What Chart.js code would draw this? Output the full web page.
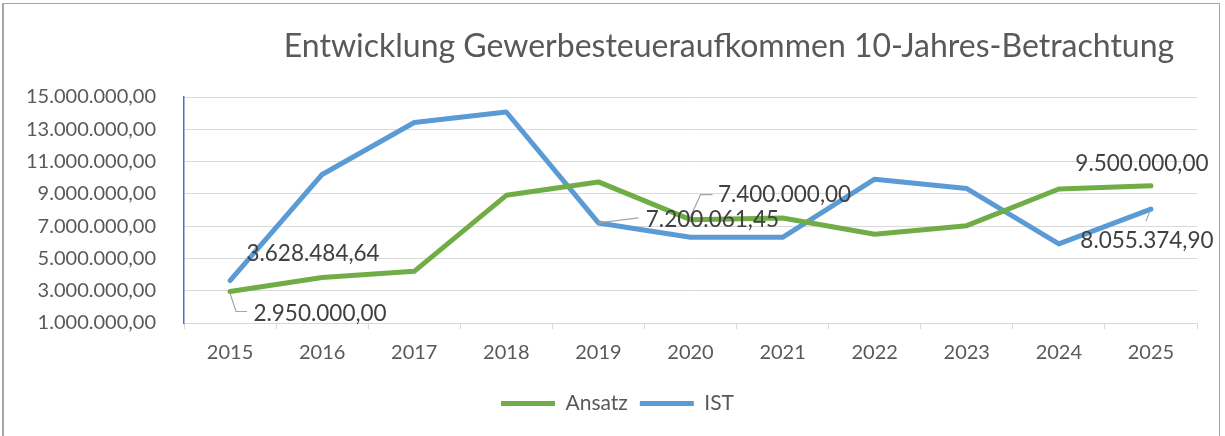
<!DOCTYPE html>
<html>
<head>
<meta charset="utf-8">
<script src="https://cdn.jsdelivr.net/npm/chart.js@4"></script>
<style>
  body { margin: 0; background: #fff; }
  #wrap { position: relative; width: 1225px; height: 436px; overflow: hidden; }
  #frame {
    position: absolute; left: 2px; top: 3px; width: 1218px; height: 460px;
    border: 1px solid #a6a6a6; border-left-width: 2px; box-sizing: border-box;
  }
  canvas { position: absolute; left: 0; top: 0; }
</style>
</head>
<body>
<div id="wrap">
  <div id="frame"></div>
  <canvas id="chartGewst" width="1225" height="436"></canvas>
</div>
<script>
/* Daten */
const jahre = ['2015', '2016', '2017', '2018', '2019', '2020', '2021', '2022', '2023', '2024', '2025'];

const ansatz = [2950000, 3820000, 4200000, 8910000, 9740000, 7400000, 7500000, 6500000, 7030000, 9300000, 9500000];

const ist = [3628484.64, 10200000, 13420000, 14070000, 7200061.45, 6310000, 6310000, 9910000, 9330000, 5900000, 8055374.90];

const yTicks = [1000000, 3000000, 5000000, 7000000, 9000000, 11000000, 13000000, 15000000];

const titel = 'Entwicklung Gewerbesteueraufkommen 10-Jahres-Betrachtung';

const FONT = 'Lato, "Open Sans", sans-serif';

function formatDe(v) {
  const parts = Number(v).toFixed(2).split('.');
  const ganz = parts[0].replace(/\B(?=(\d{3})+(?!\d))/g, '.');
  return ganz + ',' + parts[1];
}

/* Beschriftungen einzelner Punkte (Versatz + Fuehrungslinie) */
const labelsAnsatz = [
  { i: 0, dx: 90, dy: 22, line: [[0, 2], [6, 20], [17, 20]] },
  { i: 5, dx: 94, dy: -25, line: [[0, -3], [10, -25], [22, -25]] },
  { i: 10, dx: -9, dy: -22 }
];

const labelsIst = [
  { i: 0, dx: 83, dy: -27 },
  { i: 4, dx: 114, dy: -3, line: [[0, 0], [40, -5]] },
  { i: 10, dx: -4, dy: 32, line: [[-1, 2], [-5, 12]] }
];

const pointLabels = {
  id: 'pointLabels',
  afterDatasetsDraw(chart) {
    const ctx = chart.ctx;
    const sets = [labelsAnsatz, labelsIst];
    ctx.save();
    sets.forEach((list, d) => {
      const meta = chart.getDatasetMeta(d);
      const data = chart.data.datasets[d].data;
      list.forEach(l => {
        const pt = meta.data[l.i];
        if (l.line) {
          ctx.beginPath();
          ctx.strokeStyle = '#a6a6a6';
          ctx.lineWidth = 1.2;
          l.line.forEach((p, k) => {
            if (k === 0) ctx.moveTo(pt.x + p[0], pt.y + p[1]);
            else ctx.lineTo(pt.x + p[0], pt.y + p[1]);
          });
          ctx.stroke();
        }
        ctx.fillStyle = '#404040';
        ctx.font = '22.5px ' + FONT;
        ctx.textAlign = 'center';
        ctx.textBaseline = 'middle';
        ctx.fillText(formatDe(data[l.i]), pt.x + l.dx, pt.y + l.dy);
      });
    });
    ctx.restore();
  }
};

const titlePlugin = {
  id: 'titlePlugin',
  afterLayout(chart) {
    // Legende etwas nach rechts, wie im Original
    if (chart.legend) {
      chart.legend.left += 19;
      chart.legend.right += 19;
    }
  },
  afterDraw(chart) {
    const ctx = chart.ctx;
    ctx.save();
    ctx.fillStyle = '#595959';
    ctx.font = '32px ' + FONT;
    ctx.textAlign = 'center';
    ctx.textBaseline = 'middle';
    ctx.fillText(titel, 729, 47);
    ctx.restore();
  }
};

new Chart(document.getElementById('chartGewst'), {
  type: 'line',
  data: {
    labels: jahre,
    datasets: [
      {
        label: 'Ansatz',
        data: ansatz,
        borderColor: '#70ad47',
        backgroundColor: '#70ad47',
        borderWidth: 5,
        borderCapStyle: 'round',
        borderJoinStyle: 'round',
        pointRadius: 0,
        tension: 0
      },
      {
        label: 'IST',
        data: ist,
        borderColor: '#5b9bd5',
        backgroundColor: '#5b9bd5',
        borderWidth: 5,
        borderCapStyle: 'round',
        borderJoinStyle: 'round',
        pointRadius: 0,
        tension: 0
      }
    ]
  },
  options: {
    responsive: false,
    animation: false,
    layout: {
      padding: { left: 0, right: 28, top: 97, bottom: 12 }
    },
    plugins: {
      legend: {
        position: 'bottom',
        labels: {
          usePointStyle: true,
          pointStyle: 'line',
          pointStyleWidth: 54,
          boxHeight: 18,
          padding: 12,
          color: '#595959',
          font: { family: FONT, size: 21 }
        }
      },
      tooltip: { enabled: false }
    },
    scales: {
      x: {
        offset: true,
        grid: {
          offset: true,
          drawOnChartArea: false,
          drawTicks: true,
          tickLength: 6,
          color: '#d9d9d9'
        },
        border: { color: '#d9d9d9' },
        ticks: {
          color: '#595959',
          padding: 12,
          font: { family: FONT, size: 20 }
        },
        afterFit(scale) { scale.height = 58; }
      },
      y: {
        min: 1000000,
        max: 15000000,
        afterBuildTicks(scale) {
          scale.ticks = yTicks.map(v => ({ value: v }));
        },
        grid: {
          color: '#d9d9d9',
          drawTicks: false
        },
        border: { color: '#4472c4', width: 1.5 },
        ticks: {
          color: '#595959',
          padding: 28,
          font: { family: FONT, size: 20 },
          callback: v => formatDe(v)
        },
        afterFit(scale) { scale.width = 184; }
      }
    }
  },
  plugins: [pointLabels, titlePlugin]
});
</script>
</body>
</html>
